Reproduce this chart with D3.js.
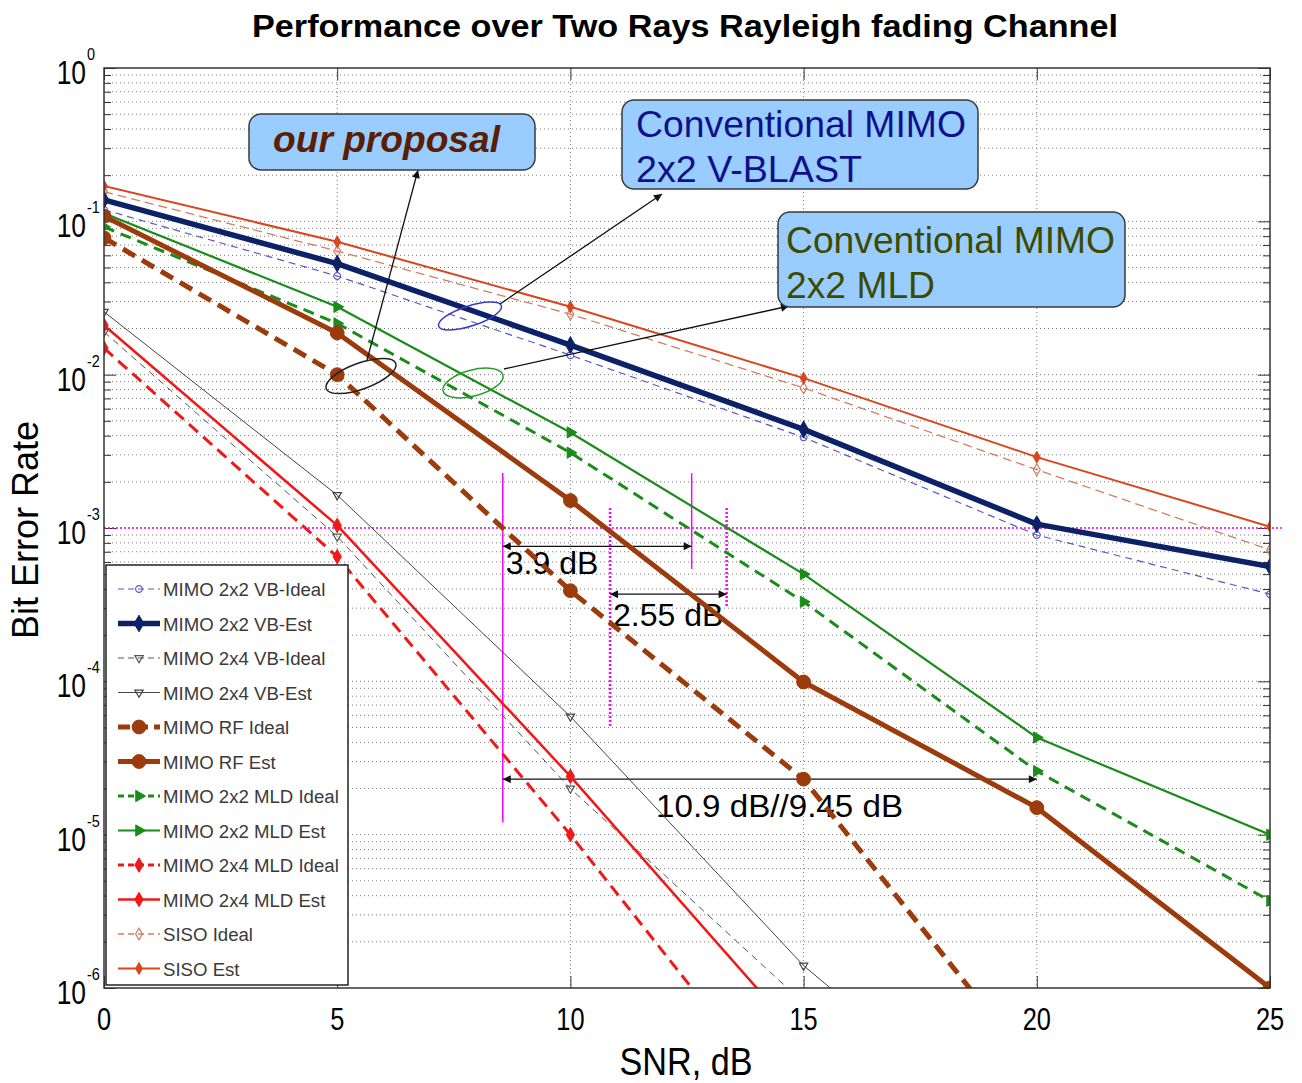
<!DOCTYPE html>
<html><head><meta charset="utf-8">
<script src="https://cdn.jsdelivr.net/npm/d3@7"></script>
<style>
body{margin:0;background:#fff}
svg{display:block}
text{font-family:"Liberation Sans",Arial,Helvetica,sans-serif}
</style>
</head><body>
<svg id="c" width="1302" height="1083"></svg>
<script>
// ---------------- DATA ----------------
const snr = [0, 5, 10, 15, 20, 25];
const vbIdeal2x2  = [0.119, 0.044, 0.0134, 0.0039, 0.0009, 0.00037];
const vbEst2x2    = [0.138, 0.053, 0.0156, 0.0044, 0.00106, 0.00056];
const vbIdeal2x4  = [0.019, 0.00088, 2.0e-5, 8.0e-7];
const vbEst2x4    = [0.0257, 0.00164, 5.9e-5, 1.4e-6, 7.4e-8];
const rfIdeal     = [0.078, 0.010, 3.9e-4, 2.3e-5, 2.8e-7];
const rfEst       = [0.108, 0.0187, 0.00151, 9.9e-5, 1.5e-5, 1.0e-6];
const mldIdeal2x2 = [0.092, 0.0216, 0.0031, 3.3e-4, 2.6e-5, 3.7e-6];
const mldEst2x2   = [0.113, 0.0277, 0.0042, 5.0e-4, 4.3e-5, 1.0e-5];
const mldIdeal2x4 = [0.0149, 0.00065, 1.0e-5, 1.2e-7];
const mldEst2x4   = [0.021, 0.00104, 2.4e-5, 4.5e-7];
const sisoIdeal   = [0.156, 0.064, 0.0248, 0.0082, 0.0024, 0.00072];
const sisoEst     = [0.17, 0.0736, 0.0277, 0.0095, 0.0029, 0.00102];

const legendLabels = ["MIMO 2x2 VB-Ideal","MIMO 2x2 VB-Est","MIMO 2x4 VB-Ideal","MIMO 2x4 VB-Est",
  "MIMO RF Ideal","MIMO RF Est","MIMO 2x2 MLD Ideal","MIMO 2x2 MLD Est",
  "MIMO 2x4 MLD Ideal","MIMO 2x4 MLD Est","SISO Ideal","SISO Est"];
const xTickValues = [0, 5, 10, 15, 20, 25];
const yDecadeExps = [-6, -5, -4, -3, -2, -1, 0];

const titleText = "Performance over Two Rays Rayleigh fading Channel";
const xLabel = "SNR, dB";
const yLabel = "Bit Error Rate";

// annotation values (dB, BER)
const refBER = 1e-3;
const gapA = {x1: 8.55, x2: 12.6, yArrow: 7.6e-4, label: "3.9 dB"};
const gapB = {x1: 10.85, x2: 13.35, yArrow: 3.7e-4, label: "2.55 dB"};
const gapC = {x1: 8.55, x2: 20, yArrow: 2.3e-5, label: "10.9 dB//9.45 dB"};

// ---------------- STYLES ----------------
const styles = [
  {color:'#5757c8', w:1.2, dash:'7,5',  mk:'circleOpen'},
  {color:'#0d2166', w:5.5, dash:null,   mk:'diamondBig'},
  {color:'#555555', w:1,   dash:'7,5',  mk:'triDown'},
  {color:'#444444', w:1,   dash:null,   mk:'triDown'},
  {color:'#9c3b0b', w:5,   dash:'14,8', mk:'bigCircle'},
  {color:'#9c3b0b', w:5,   dash:null,   mk:'bigCircle'},
  {color:'#1a8c1a', w:3,   dash:'11,7', mk:'triRight'},
  {color:'#1a8c1a', w:2.2, dash:null,   mk:'triRight'},
  {color:'#f01818', w:3,   dash:'12,7', mk:'diamond'},
  {color:'#f01818', w:2.5, dash:null,   mk:'diamond'},
  {color:'#d08060', w:1.3, dash:'9,5',  mk:'diamondOpen'},
  {color:'#d9461e', w:2,   dash:null,   mk:'diamondSmall'}
];
const seriesValues = [vbIdeal2x2, vbEst2x2, vbIdeal2x4, vbEst2x4, rfIdeal, rfEst,
  mldIdeal2x2, mldEst2x2, mldIdeal2x4, mldEst2x4, sisoIdeal, sisoEst];
const series = seriesValues.map((v, i) => Object.assign({name: legendLabels[i], v}, styles[i]));

// ---------------- LAYOUT ----------------
const L = 104, R = 1270, T = 68, B = 988;
const svg = d3.select('#c');
const x = d3.scaleLinear().domain([0, 25]).range([L, R]);
const y = d3.scaleLog().domain([1e-6, 1]).range([B, T]);

function stxt(g, px, py, s, o) {
  o = o || {};
  const t = g.append('text')
    .attr('transform', `translate(${px},${py}) scale(${o.k || 1},1)`)
    .attr('text-anchor', o.anchor || 'start')
    .attr('font-size', o.size || 16)
    .attr('fill', o.fill || '#000')
    .text(s);
  if (o.weight) t.attr('font-weight', o.weight);
  if (o.style) t.attr('font-style', o.style);
  if (o.len) t.attr('textLength', o.len).attr('lengthAdjust', 'spacingAndGlyphs');
  return t;
}

const defs = svg.append('defs');
defs.append('clipPath').attr('id', 'plotclip').append('rect')
  .attr('x', L).attr('y', T).attr('width', R - L).attr('height', B - T);
defs.append('marker').attr('id', 'arr').attr('viewBox', '0 0 10 10')
  .attr('refX', 10).attr('refY', 5).attr('markerWidth', 11).attr('markerHeight', 8)
  .attr('markerUnits', 'userSpaceOnUse').attr('orient', 'auto-start-reverse')
  .append('path').attr('d', 'M0,0 L10,5 L0,10 z').attr('fill', '#111');

// grid
const grid = svg.append('g').attr('stroke', '#7a7a7a').attr('stroke-width', 1).attr('stroke-dasharray', '1,3');
const gridVals = [];
yDecadeExps.slice(0, -1).forEach(e => { for (let k = 1; k <= 9; k++) gridVals.push(k * Math.pow(10, e)); });
grid.selectAll('line.h').data(gridVals.filter(v => v > 1e-6 * 1.01)).join('line')
  .attr('x1', L).attr('x2', R).attr('y1', d => y(d)).attr('y2', d => y(d));
grid.selectAll('line.v').data(xTickValues.slice(1, -1)).join('line')
  .attr('y1', T).attr('y2', B).attr('x1', d => x(d)).attr('x2', d => x(d));

// ticks
const minorVals = gridVals.filter(v => Math.abs(Math.log10(v) - Math.round(Math.log10(v))) > 1e-6);
const majorVals = yDecadeExps.map(e => Math.pow(10, e));
function tickAxis(axis, tr) {
  const g = svg.append('g').attr('transform', tr).call(axis);
  g.select('.domain').remove();
  g.selectAll('line').attr('stroke', '#333').attr('stroke-width', 1);
  g.selectAll('text').remove();
}
tickAxis(d3.axisLeft(y).tickValues(minorVals).tickSize(-7).tickFormat(''), `translate(${L},0)`);
tickAxis(d3.axisLeft(y).tickValues(majorVals).tickSize(-12).tickFormat(''), `translate(${L},0)`);
tickAxis(d3.axisRight(y).tickValues(minorVals).tickSize(-7).tickFormat(''), `translate(${R},0)`);
tickAxis(d3.axisRight(y).tickValues(majorVals).tickSize(-12).tickFormat(''), `translate(${R},0)`);
tickAxis(d3.axisBottom(x).tickValues(xTickValues).tickSize(-12).tickFormat(''), `translate(0,${B})`);
tickAxis(d3.axisTop(x).tickValues(xTickValues).tickSize(-12).tickFormat(''), `translate(0,${T})`);

// magenta reference line
const ann = svg.append('g');
ann.append('line').attr('x1', L).attr('x2', R + 14).attr('y1', y(refBER)).attr('y2', y(refBER))
  .attr('stroke', '#ff00ff').attr('stroke-width', 1.5).attr('stroke-dasharray', '2,2');

// series
const line = d3.line().x((d, i) => x(snr[i])).y(d => y(d));
const plot = svg.append('g').attr('clip-path', 'url(#plotclip)');
const drawOrder = [10, 11, 0, 2, 3, 8, 9, 6, 7, 1, 4, 5];

function markerPath(mk) {
  const s = d3.symbol();
  switch (mk) {
    case 'circleOpen': return {d: s.type(d3.symbolCircle).size(36)(), fill: 'none', rot: 0};
    case 'diamondBig': return {d: s.type(d3.symbolDiamond).size(80)(), fill: 'c', rot: 0};
    case 'triDown': return {d: s.type(d3.symbolTriangle).size(30)(), fill: 'none', rot: 180};
    case 'bigCircle': return {d: s.type(d3.symbolCircle).size(150)(), fill: 'c', rot: 0};
    case 'triRight': return {d: s.type(d3.symbolTriangle).size(55)(), fill: 'c', rot: 90};
    case 'diamond': return {d: s.type(d3.symbolDiamond).size(60)(), fill: 'c', rot: 0};
    case 'diamondOpen': return {d: s.type(d3.symbolDiamond).size(40)(), fill: 'none', rot: 0};
    case 'diamondSmall': return {d: s.type(d3.symbolDiamond).size(40)(), fill: 'c', rot: 0};
  }
}
function drawMarker(g, mk, color, px, py) {
  const m = markerPath(mk);
  g.append('path').attr('d', m.d)
    .attr('transform', `translate(${px},${py}) rotate(${m.rot})`)
    .attr('fill', m.fill === 'c' ? color : 'none')
    .attr('stroke', color).attr('stroke-width', m.fill === 'c' ? 1 : 1.2);
}
drawOrder.forEach(i => {
  const s = series[i];
  plot.append('path').datum(s.v).attr('d', line)
    .attr('fill', 'none').attr('stroke', s.color).attr('stroke-width', s.w)
    .attr('stroke-dasharray', s.dash).attr('stroke-linejoin', 'round');
  s.v.forEach((v, j) => drawMarker(plot, s.mk, s.color, x(snr[j]), y(v)));
});

// magenta verticals
function vline(xv, y1v, y2v, dotted) {
  ann.append('line').attr('x1', x(xv)).attr('x2', x(xv)).attr('y1', y(y1v)).attr('y2', y(y2v))
    .attr('stroke', '#ff00ff').attr('stroke-width', dotted ? 2.5 : 1.5)
    .attr('stroke-dasharray', dotted ? '2,2' : null);
}
vline(gapA.x1, 2.28e-3, 1.2e-5, false);
vline(gapA.x2, 2.28e-3, 5.4e-4, false);
vline(gapB.x1, 1.35e-3, 5.0e-5, true);
vline(gapB.x2, 1.35e-3, 3.1e-4, true);

function dblArrow(g) {
  ann.append('line').attr('x1', x(g.x1)).attr('x2', x(g.x2)).attr('y1', y(g.yArrow)).attr('y2', y(g.yArrow))
    .attr('stroke', '#111').attr('stroke-width', 1.3)
    .attr('marker-start', 'url(#arr)').attr('marker-end', 'url(#arr)');
}
dblArrow(gapA); dblArrow(gapB); dblArrow(gapC);
stxt(ann, x(gapA.x1) + 3, y(gapA.yArrow) + 28, gapA.label, {size: 32});
stxt(ann, x(gapB.x1) + 3, y(gapB.yArrow) + 32, gapB.label, {size: 32});
stxt(ann, 656, y(gapC.yArrow) + 38, gapC.label, {size: 32, len: 247});

// ellipses & arrows
const callouts = svg.append('g');
function ell(cx, cy, rx, ry, rot, col) {
  callouts.append('ellipse').attr('cx', 0).attr('cy', 0).attr('rx', rx).attr('ry', ry)
    .attr('transform', `translate(${cx},${cy}) rotate(${rot})`)
    .attr('fill', 'none').attr('stroke', col).attr('stroke-width', 1.5);
}
ell(361, 376, 37, 13, -20, '#222');
ell(470, 316, 33, 10, -18, '#3a3acc');
ell(473, 383, 31, 13, -15, '#2a9a2a');
function arrow(x1, y1, x2, y2) {
  callouts.append('line').attr('x1', x1).attr('y1', y1).attr('x2', x2).attr('y2', y2)
    .attr('stroke', '#111').attr('stroke-width', 1.3).attr('marker-end', 'url(#arr)');
}
arrow(367, 360, 418, 170);
arrow(500, 304, 662, 194);
arrow(504, 369, 789, 306);

// boxes
function box(x0, y0, w, h) {
  callouts.append('rect').attr('x', x0).attr('y', y0).attr('width', w).attr('height', h)
    .attr('rx', 12).attr('fill', '#99ccff').attr('stroke', '#3a3a3a').attr('stroke-width', 1.5);
}
box(249, 114, 286, 56);
stxt(callouts, 273, 152, 'our proposal', {size: 37, weight: 'bold', style: 'italic', fill: '#5a1e05', len: 227});
box(622, 100, 356, 89);
stxt(callouts, 636, 137, 'Conventional MIMO', {size: 37, fill: '#10108a', len: 330});
stxt(callouts, 636, 182, '2x2 V-BLAST', {size: 37, fill: '#10108a', len: 226});
box(778, 212, 347, 95);
stxt(callouts, 786, 253, 'Conventional MIMO', {size: 37, fill: '#3d4a00', len: 329});
stxt(callouts, 786, 298, '2x2 MLD', {size: 37, fill: '#3d4a00', len: 149});

// legend
const lg = svg.append('g');
lg.append('rect').attr('x', 106).attr('y', 565).attr('width', 242).attr('height', 420)
  .attr('fill', '#fff').attr('stroke', '#222').attr('stroke-width', 1.5);
series.forEach((s, i) => {
  const ry = 589 + i * 34.5;
  lg.append('line').attr('x1', 118).attr('x2', 160).attr('y1', ry).attr('y2', ry)
    .attr('stroke', s.color).attr('stroke-width', s.w)
    .attr('stroke-dasharray', s.dash ? (s.w > 4 ? '12,6' : '6,4') : null);
  drawMarker(lg, s.mk, s.color, 139, ry);
  stxt(lg, 163, ry + 7, s.name, {size: 19, k: 0.98, fill: '#3a3a3a'});
});

// frame
svg.append('rect').attr('x', L).attr('y', T).attr('width', R - L).attr('height', B - T)
  .attr('fill', 'none').attr('stroke', '#333').attr('stroke-width', 1.5);

// tick labels
const lab = svg.append('g');
yDecadeExps.forEach(e => {
  const py = y(Math.pow(10, e));
  stxt(lab, 86, py + 16, '10', {size: 33, k: 0.8, anchor: 'end'});
  stxt(lab, 87, py - 8, String(e), {size: 17, k: 0.85});
});
xTickValues.forEach(v => {
  stxt(lab, x(v), B + 42, String(v), {size: 31, k: 0.82, anchor: 'middle'});
});

// titles
stxt(svg, 252, 37, titleText, {size: 31, weight: 'bold', len: 866});
stxt(svg, 686, 1075, xLabel, {size: 38, k: 0.9, anchor: 'middle'});
svg.append('text').attr('transform', `translate(38,${530}) rotate(-90)`)
  .attr('text-anchor', 'middle').attr('font-size', 36).text(yLabel);
</script>
</body></html>
